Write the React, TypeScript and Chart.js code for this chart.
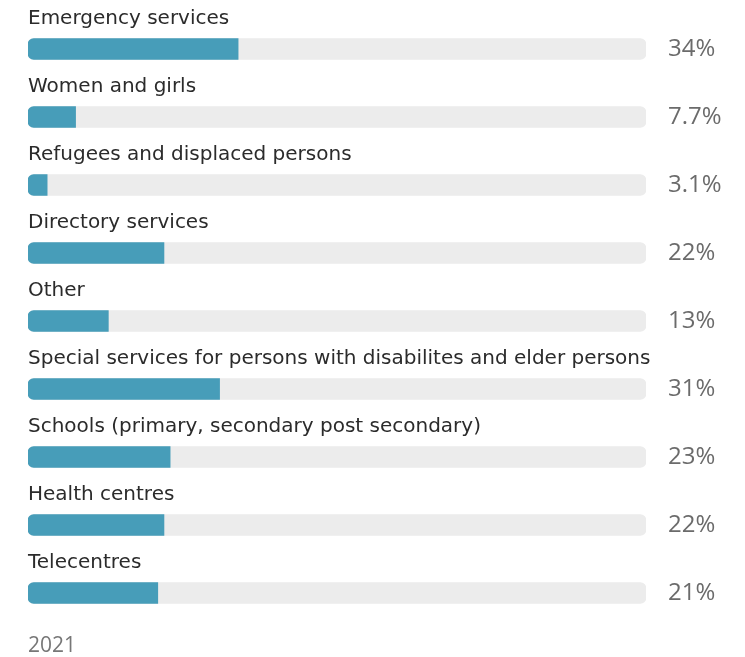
import React, { useEffect, useRef } from "react";
import { Chart, registerables } from "chart.js";

Chart.register(...registerables);

const categories = [
  "Emergency services",
  "Women and girls",
  "Refugees and displaced persons",
  "Directory services",
  "Other",
  "Special services for persons with disabilites and elder persons",
  "Schools (primary, secondary post secondary)",
  "Health centres",
  "Telecentres",
];
const values = [34, 7.7, 3.1, 22, 13, 31, 23, 22, 21];
const trackValues = categories.map(() => 100);
const footnote = "2021";

const BAR_COLOR = "#479db9";
const TRACK_COLOR = "#ececec";

const labelPlugin = {
  id: "rowLabels",
  afterDatasetsDraw(chart: any) {
    const { ctx, chartArea, scales } = chart;
    const y = scales.y;
    ctx.save();
    categories.forEach((cat, i) => {
      const cy = y.getPixelForValue(i);
      ctx.fillStyle = "#2b2b2b";
      ctx.font = "20px 'DejaVu Sans', sans-serif";
      ctx.textAlign = "left";
      ctx.textBaseline = "alphabetic";
      ctx.fillText(cat, chartArea.left, cy - 25);
      ctx.fillStyle = "#6b6b6b";
      ctx.font = "24px 'Open Sans', sans-serif";
      ctx.textBaseline = "middle";
      ctx.fillText(`${values[i]}%`, chartArea.right + 22, cy);
    });
    ctx.fillStyle = "#777777";
    ctx.font = "21px 'Open Sans', sans-serif";
    ctx.textBaseline = "alphabetic";
    ctx.fillText(footnote, chartArea.left, chartArea.bottom + 25);
    ctx.restore();
  },
};

export default function App() {
  const ref = useRef<HTMLCanvasElement | null>(null);
  useEffect(() => {
    document.body.style.margin = "0";
    const chart = new Chart(ref.current as HTMLCanvasElement, {
      type: "bar",
      data: {
        labels: categories,
        datasets: [
          {
            data: values,
            backgroundColor: BAR_COLOR,
            barThickness: 21,
            grouped: false,
            order: 0,
            borderSkipped: false,
            borderRadius: { topLeft: 6, bottomLeft: 6, topRight: 0, bottomRight: 0 },
          } as any,
          {
            data: trackValues,
            backgroundColor: TRACK_COLOR,
            barThickness: 21,
            grouped: false,
            order: 1,
            borderSkipped: false,
            borderRadius: 6,
          } as any,
        ],
      },
      options: {
        indexAxis: "y",
        animation: false,
        responsive: false,
        maintainAspectRatio: false,
        layout: { padding: { left: 28, right: 99, top: 15, bottom: 30 } },
        plugins: { legend: { display: false }, tooltip: { enabled: false } },
        scales: {
          x: { display: false, min: 0, max: 100 },
          y: { display: false },
        },
      },
      plugins: [labelPlugin],
    });
    return () => chart.destroy();
  }, []);
  return (
    <div style={{ position: "fixed", left: 0, top: 0, width: 745, height: 657, background: "#fff" }}>
      <canvas ref={ref} width={745} height={657} />
    </div>
  );
}
